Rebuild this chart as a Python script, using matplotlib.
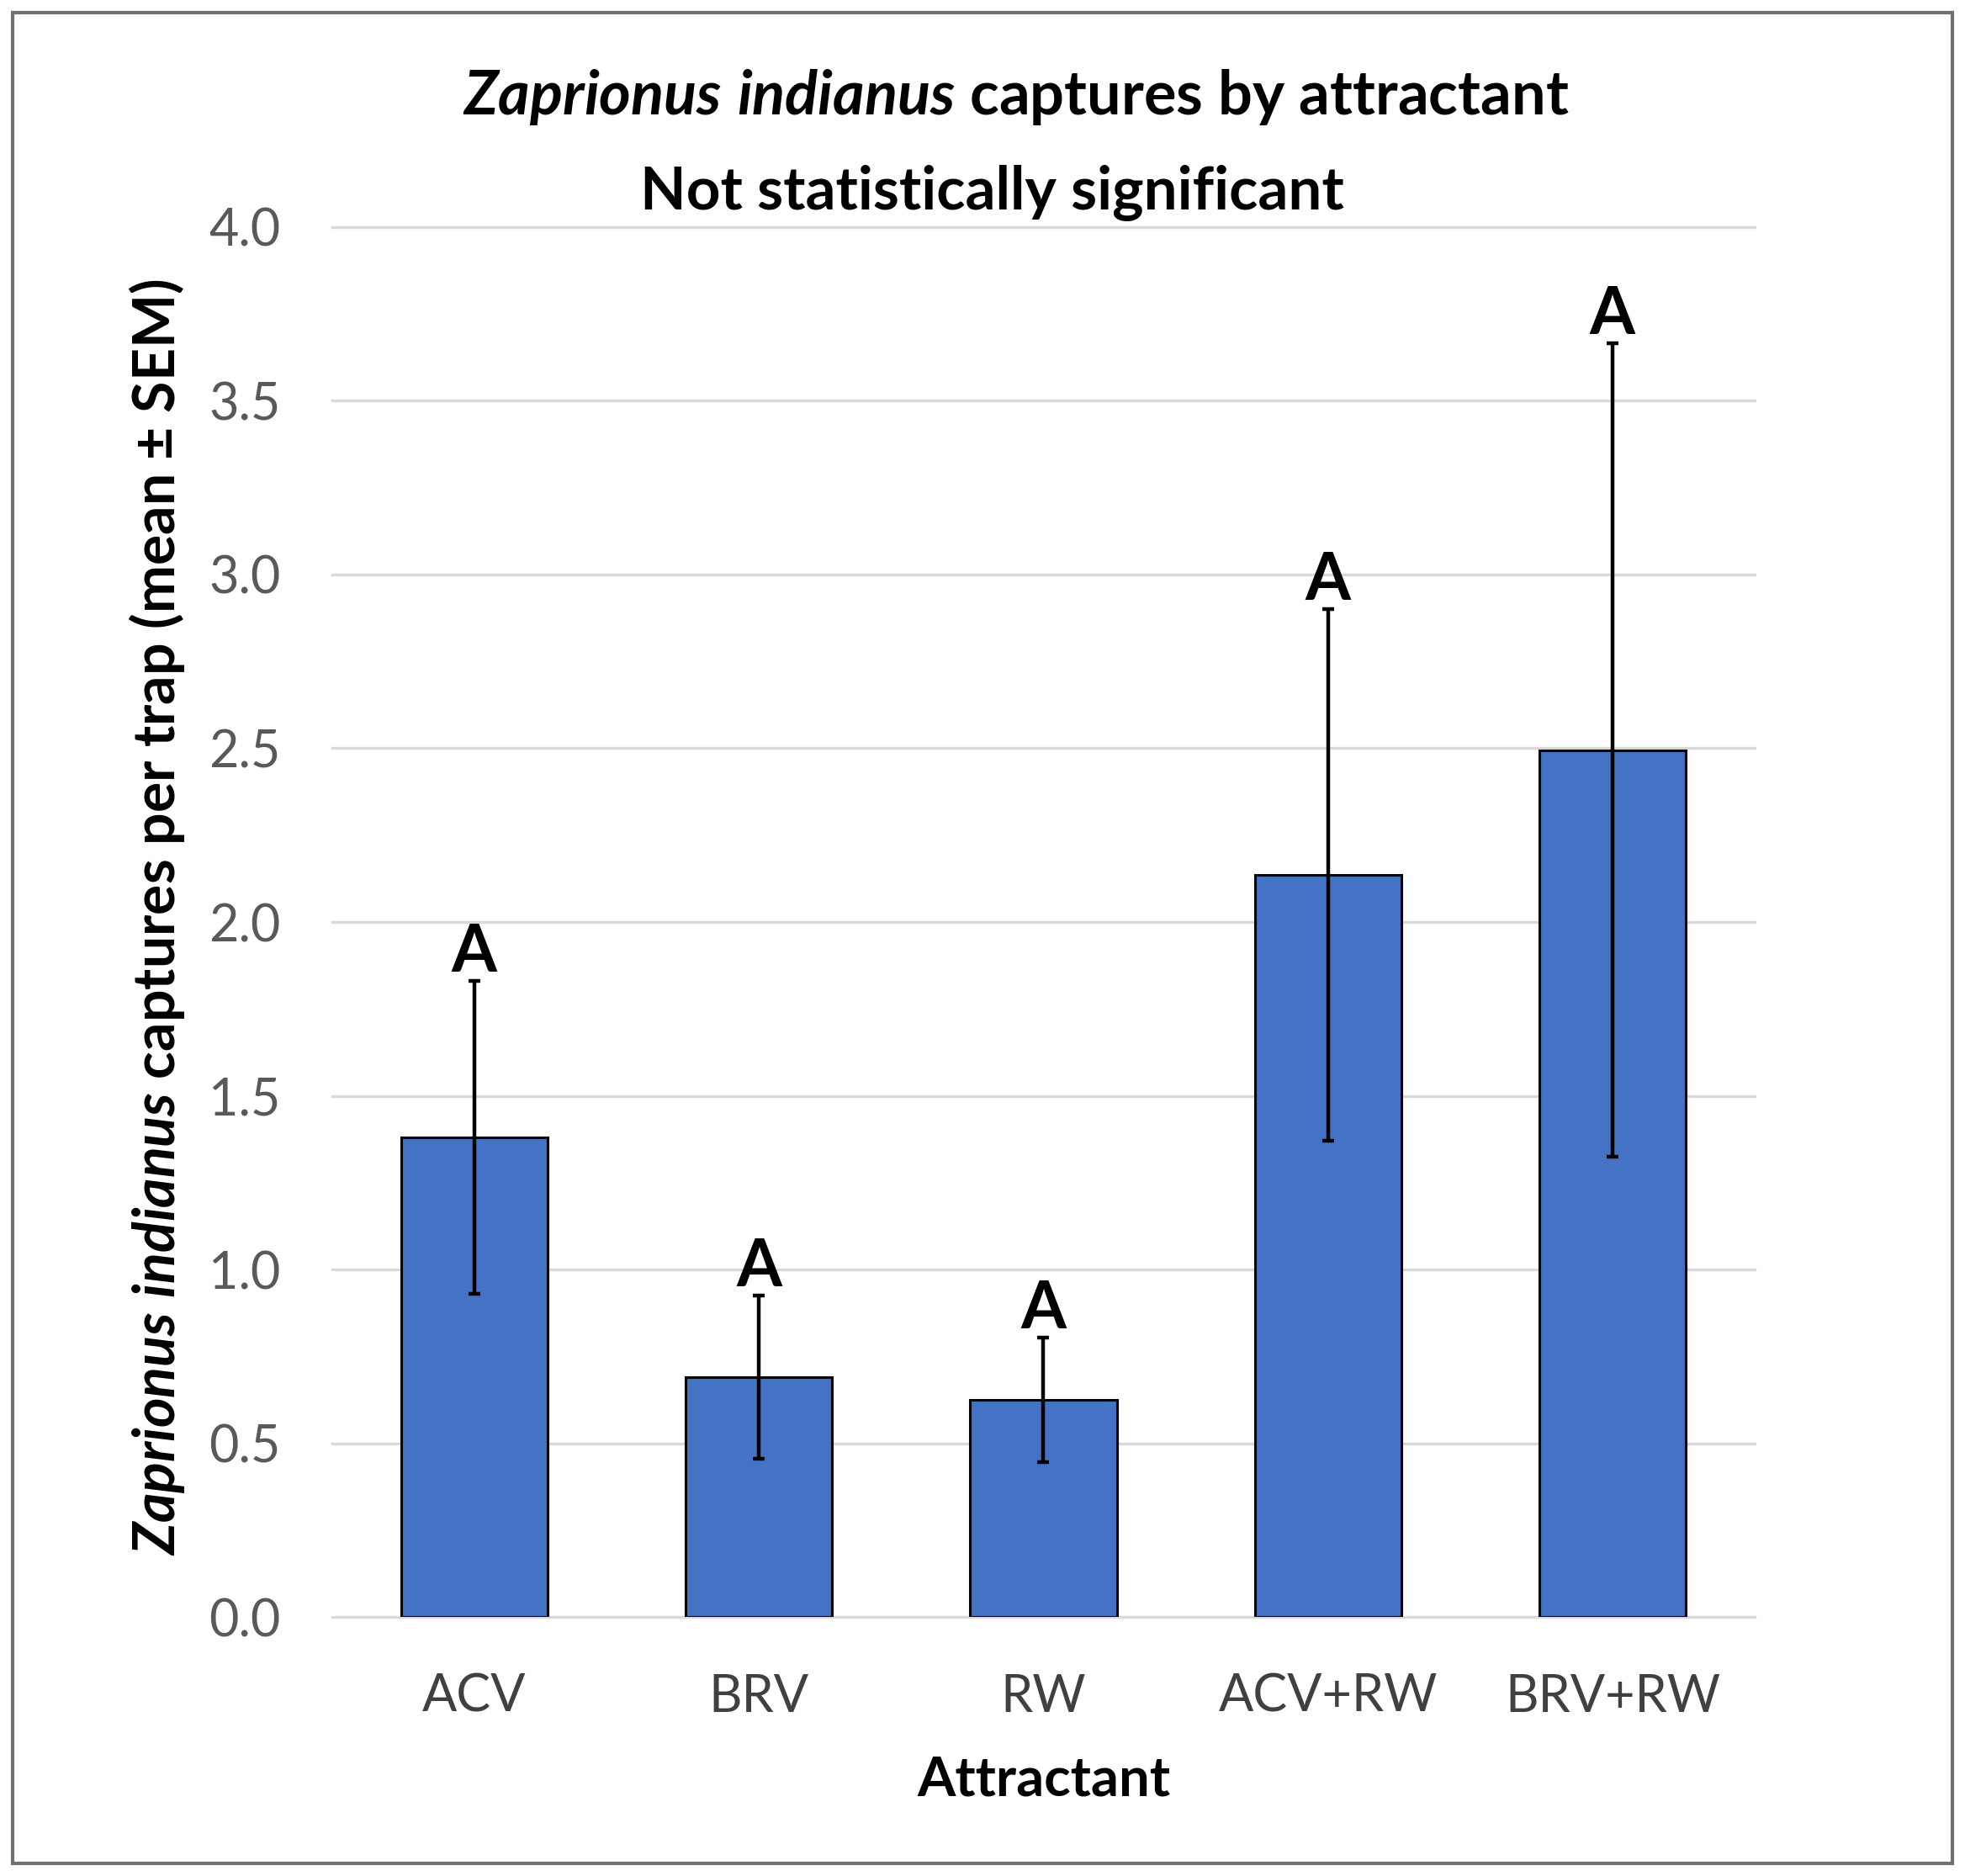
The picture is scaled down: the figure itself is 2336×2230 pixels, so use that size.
import matplotlib
matplotlib.use("Agg")
import matplotlib.pyplot as plt
from matplotlib.patches import Rectangle

# Données
attractants = ["ACV", "BRV", "RW", "ACV+RW", "BRV+RW"]
moyennes = [1.38, 0.69, 0.625, 2.135, 2.495]
sem = [0.45, 0.235, 0.18, 0.765, 1.17]
lettres = ["A", "A", "A", "A", "A"]
graduations = [0.0, 0.5, 1.0, 1.5, 2.0, 2.5, 3.0, 3.5, 4.0]

plt.rcParams['font.family'] = ['Lato', 'DejaVu Sans']
plt.rcParams['mathtext.fontset'] = 'custom'
plt.rcParams['mathtext.it'] = 'Lato:italic:bold'
plt.rcParams['mathtext.rm'] = 'Lato:bold'

fig = plt.figure(figsize=(11.68, 11.15), dpi=200)
ax = fig.add_axes([0.169, 0.138, 0.724, 0.741])

x = range(len(attractants))
ax.bar(x, moyennes, width=0.515, color="#4472C4", edgecolor="black",
       linewidth=1.1, zorder=2)
ax.errorbar(x, moyennes, yerr=sem, fmt="none", ecolor="black",
            elinewidth=1.6, capsize=2.5, capthick=1.6, zorder=3)

# Lettres de significativité au-dessus des barres d'erreur
for i, lettre in enumerate(lettres):
    ax.annotate(lettre, (i, moyennes[i] + sem[i]), xytext=(0, 4),
                textcoords="offset points", ha="center", va="baseline",
                fontsize=28, fontweight="bold", color="black")

ax.set_xlim(-0.5, len(attractants) - 0.5)
ax.set_ylim(0, 4)
ax.set_yticks(graduations)
ax.set_yticklabels([f"{v:.1f}" for v in graduations])
ax.set_xticks(list(x))
ax.set_xticklabels(attractants)
ax.tick_params(axis="y", length=0, pad=22, labelsize=22, labelcolor="#595959")
ax.tick_params(axis="x", length=0, pad=24, labelsize=22, labelcolor="#404040")

for s in ax.spines.values():
    s.set_visible(False)
ax.yaxis.grid(True, color="#D9D9D9", linewidth=1.2)
ax.set_axisbelow(True)
for ligne in ax.get_ygridlines():
    ligne.set_clip_on(False)

# Titres et libellés des axes
fig.text(0.517, 0.948, r"$\mathit{Zaprionus\ indianus}$ captures by attractant",
         ha="center", va="center", fontsize=26, fontweight="bold")
fig.text(0.505, 0.897, "Not statistically significant",
         ha="center", va="center", fontsize=25.5, fontweight="bold")
fig.text(0.531, 0.051, "Attractant", ha="center", va="center",
         fontsize=23.5, fontweight="bold")
fig.text(0.080, 0.511,
         r"$\mathit{Zaprionus\ indianus}$ captures per trap (mean ± SEM)",
         ha="center", va="center", rotation=90, fontsize=24.5, fontweight="bold")

# Cadre extérieur
fig.patches.append(Rectangle((10 / 1568, 10 / 1494), 1548 / 1568, 1474 / 1494,
                             transform=fig.transFigure, fill=False,
                             edgecolor="#707070", linewidth=1.5))

fig.savefig("out.png", dpi=200)
